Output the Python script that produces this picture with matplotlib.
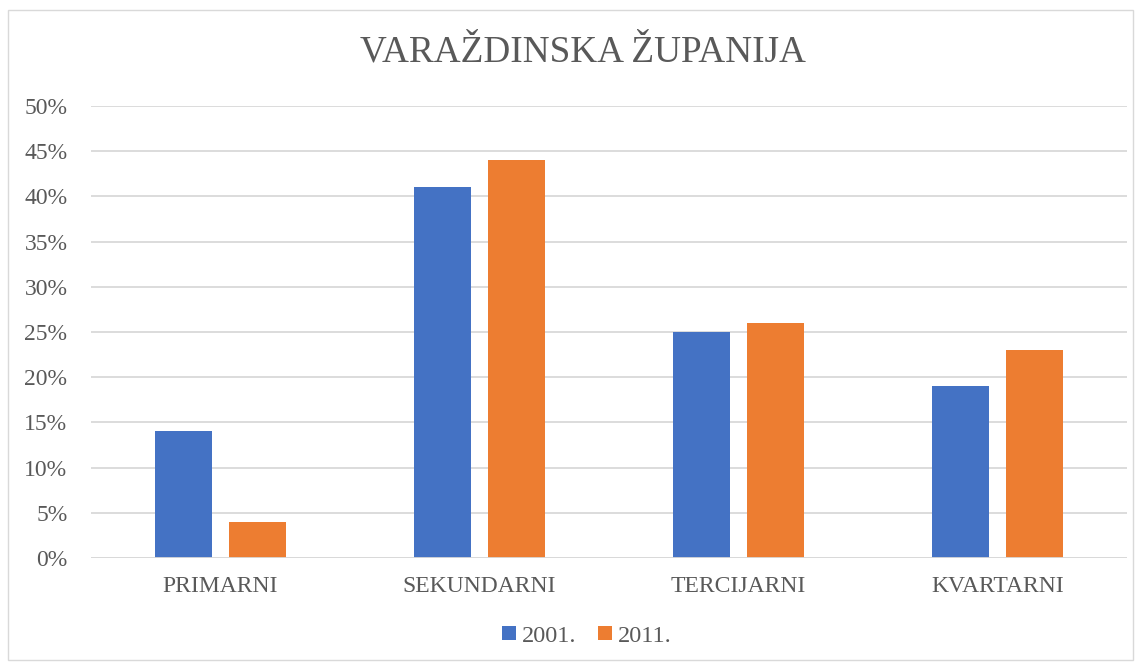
import matplotlib
matplotlib.use("Agg")
import matplotlib.pyplot as plt
import numpy as np
from matplotlib.patches import Rectangle

categories = ["PRIMARNI", "SEKUNDARNI", "TERCIJARNI", "KVARTARNI"]
series_names = ["2001.", "2011."]
values_2001 = [14, 41, 25, 19]
values_2011 = [4, 44, 26, 23]
yticks = [0, 5, 10, 15, 20, 25, 30, 35, 40, 45, 50]
ytick_labels = [f"{v}%" for v in yticks]
title = "VARAŽDINSKA ŽUPANIJA"

plt.rcParams['font.family'] = ['Liberation Serif', 'DejaVu Serif']
txt = "#595959"
grid = "#d9d9d9"
blue = "#4472C4"
orange = "#ED7D31"

W, H = 1141, 668
fig = plt.figure(figsize=(W / 100, H / 100), dpi=100)
fig.patch.set_facecolor("white")
# outer border
fig.patches.append(Rectangle((8 / W, 1 - 660 / H), (1133 - 8) / W, (660 - 10) / H,
                             transform=fig.transFigure, fill=False, edgecolor="#d9d9d9", lw=1))

ax = fig.add_axes([91 / W, 1 - 558 / H, (1127 - 91) / W, (558 - 106) / H])
x = np.arange(len(categories))
bw = 0.22
off = 0.142
ax.bar(x - off, values_2001, bw, color=blue, label=series_names[0], zorder=3)
ax.bar(x + off, values_2011, bw, color=orange, label=series_names[1], zorder=3)

ax.set_xlim(-0.5, len(categories) - 0.5)
ax.set_ylim(0, 50)
ax.set_yticks(yticks)
ax.set_yticklabels(ytick_labels)
ax.set_xticks(x)
ax.set_xticklabels(categories)
ax.tick_params(axis="both", length=0, colors=txt, labelsize=17)
ax.tick_params(axis="y", pad=17)
ax.tick_params(axis="x", pad=13)
ax.yaxis.grid(True, color=grid, lw=1.3, zorder=0)
for s in ax.spines.values():
    s.set_visible(False)
ax.axhline(0, color=grid, lw=1.3, zorder=4)

fig.text(583 / W, 1 - 52 / H, title, ha="center", va="center", fontsize=26.8, color=txt)

leg = fig.legend(loc="center", bbox_to_anchor=(587 / W, 1 - 636 / H), ncol=2, frameon=False,
                 fontsize=17.5, handlelength=0.55, handleheight=0.55, handletextpad=0.25,
                 columnspacing=0.9, labelcolor=txt)

fig.savefig("out.png", dpi=100, facecolor="white")
